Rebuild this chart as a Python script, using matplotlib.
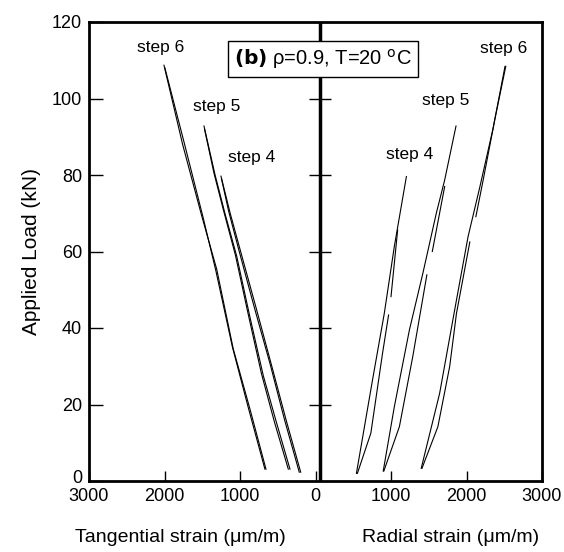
import matplotlib.pyplot as plt
import matplotlib.transforms as mtransforms
import numpy as np

plt.rcParams['font.family'] = ['Liberation Sans', 'DejaVu Sans']

# tangential strain (um/m), drawn on the left half as negative x
t4_load = [196, 390, 580, 790, 1000, 1130, 1252]
t4_load_y = [2.3, 16.0, 30.1, 45.5, 60.6, 70.0, 79.7]
t4_unload = [215, 410, 600, 805, 1010, 1150, 1245]
t4_unload_y = [2.3, 16.0, 30.5, 45.0, 60.0, 70.5, 79.0]

t5_load = [338, 520, 691, 870, 1044, 1200, 1330, 1477]
t5_load_y = [3.1, 15.5, 27.5, 43.0, 58.8, 70.0, 80.0, 92.8]
t5_unload = [360, 545, 715, 890, 1060, 1215, 1345, 1470]
t5_unload_y = [3.1, 15.5, 28.0, 43.5, 59.0, 70.5, 80.5, 92.0]

t6_load = [656, 868, 1089, 1309, 1507, 1760, 2007]
t6_load_y = [3.1, 18.8, 34.5, 55.4, 69.3, 88.0, 108.7]
t6_unload = [670, 885, 1100, 1320, 1490, 1740, 1995]
t6_unload_y = [3.1, 18.8, 35.0, 55.0, 69.0, 88.5, 108.0]

# radial strain (um/m), right half
r4_load = [542, 755, 911, 1044, 1204]
r4_load_y = [2.0, 26.4, 43.8, 61.3, 79.6]
r4_unload = [555, 733, 888, 968]
r4_unload_y = [2.0, 12.5, 33.4, 43.4]
r4_piece = [1000, 1088]
r4_piece_y = [48.2, 65.6]

r5_load = [897, 1044, 1244, 1422, 1600, 1711, 1861]
r5_load_y = [2.6, 19.4, 39.5, 54.3, 70.0, 78.7, 92.8]
r5_unload = [905, 1111, 1288, 1475]
r5_unload_y = [2.6, 14.2, 32.5, 53.9]
r5_piece = [1547, 1711]
r5_piece_y = [60.0, 77.0]

r6_load = [1400, 1644, 1867, 2021, 2177, 2350, 2510]
r6_load_y = [3.3, 22.9, 47.3, 63.9, 76.9, 92.0, 108.4]
r6_unload = [1410, 1621, 1777, 1867, 2044]
r6_unload_y = [3.3, 14.2, 29.9, 43.8, 62.5]
r6_unload2 = [2124, 2221, 2380, 2520]
r6_unload2_y = [69.1, 78.7, 95.0, 108.4]

x_ticks = [-3000, -2000, -1000, 0, 1000, 2000, 3000]
y_ticks = [0, 20, 40, 60, 80, 100, 120]

fig = plt.figure(figsize=(5.64, 5.52), dpi=100)
ax = fig.add_axes([89/564, 71/552, 453/564, 459/552])

lw = 0.8
for xs, ys in [(t4_load, t4_load_y), (t4_unload, t4_unload_y),
               (t5_load, t5_load_y), (t5_unload, t5_unload_y),
               (t6_load, t6_load_y), (t6_unload, t6_unload_y)]:
    ax.plot(-np.array(xs), ys, color='black', lw=lw)
for xs, ys in [(r4_load, r4_load_y), (r4_unload, r4_unload_y), (r4_piece, r4_piece_y),
               (r5_load, r5_load_y), (r5_unload, r5_unload_y), (r5_piece, r5_piece_y),
               (r6_load, r6_load_y), (r6_unload, r6_unload_y),
               (r6_unload2, r6_unload2_y)]:
    ax.plot(xs, ys, color='black', lw=lw)

# centre divider with its own ticks
ax.axvline(60, color='black', lw=2.5)
ax.hlines(y_ticks[1:-1], -90, 210, color='black', lw=1)

ax.set_xlim(-3000, 3000)
ax.set_ylim(0, 120)
ax.set_xticks(x_ticks)
ax.set_xticklabels([str(abs(v)) for v in x_ticks])
ax.set_yticks(y_ticks)
ax.tick_params(direction='in', labelsize=13, width=1)
ax.tick_params(axis='y', length=10, pad=5)
ax.tick_params(axis='x', length=7, pad=5)
for s in ax.spines.values():
    s.set_linewidth(2)

# nudge the y "0" up a little so it clears the x "3000"
lab0 = ax.get_yticklabels()[0]
lab0.set_transform(lab0.get_transform() +
                   mtransforms.ScaledTranslation(0, 3/72, fig.dpi_scale_trans))

ax.set_ylabel('Applied Load (kN)', fontsize=15, labelpad=8)

fs = 12.5
ax.text(-2050, 111.5, 'step 6', fontsize=fs, ha='center', va='bottom')
ax.text(-1310, 96, 'step 5', fontsize=fs, ha='center', va='bottom')
ax.text(-850, 82.5, 'step 4', fontsize=fs, ha='center', va='bottom')
ax.text(2490, 111, 'step 6', fontsize=fs, ha='center', va='bottom')
ax.text(1730, 97.5, 'step 5', fontsize=fs, ha='center', va='bottom')
ax.text(1250, 83.5, 'step 4', fontsize=fs, ha='center', va='bottom')

ax.text(95, 110.3, r'$\bf{(b)}$ ρ=0.9, T=20 $^{\rm o}$C', fontsize=14.5,
        ha='center', va='center',
        bbox=dict(boxstyle='square,pad=0.3', fc='white', ec='black', lw=1))

fig.text(180/564, 1 - 537/552, 'Tangential strain (μm/m)', fontsize=14,
         ha='center', va='center')
fig.text(451/564, 1 - 537/552, 'Radial strain (μm/m)', fontsize=14,
         ha='center', va='center')

fig.savefig('out.png', dpi=100)
